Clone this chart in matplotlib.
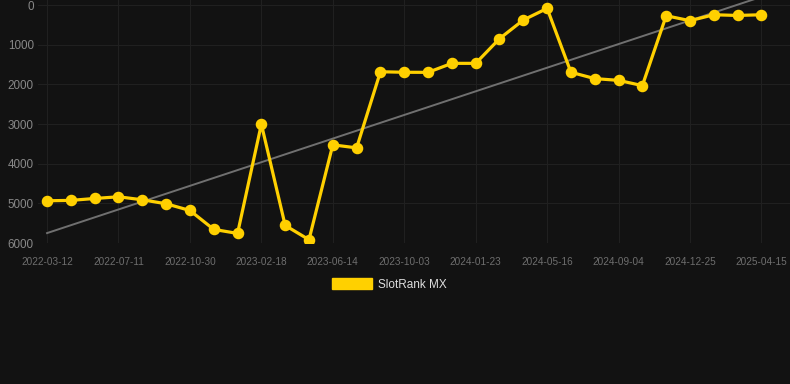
import numpy as np
import matplotlib
matplotlib.use("Agg")
import matplotlib.pyplot as plt
from matplotlib.patches import Patch

tick_labels = ["2022-03-12", "2022-07-11", "2022-10-30", "2023-02-18", "2023-06-14",
               "2023-10-03", "2024-01-23", "2024-05-16", "2024-09-04", "2024-12-25",
               "2025-04-15"]
ranks = [4935, 4925, 4877, 4834, 4910, 5010, 5180, 5657, 5758, 3003,
         5557, 5917, 3524, 3600, 1680, 1693, 1695, 1468, 1468, 846,
         375, 82, 1693, 1853, 1897, 2030, 267, 392, 242, 260, 242]
series_name = "SlotRank MX"

bg = "#121212"
yellow = "#FFD000"

fig = plt.figure(figsize=(7.9, 3.84), dpi=100, facecolor=bg)
ax = fig.add_axes([38/790, (384-243)/384, 1 - 38/790, 243/384])
ax.set_facecolor(bg)

x = np.arange(len(ranks))
coef = np.polyfit(x, ranks, 1)
xt = np.array([x[0], x[-1]])
ax.plot(xt, np.polyval(coef, xt), color="#707070", lw=1.4, zorder=2)
ax.plot(x, ranks, color=yellow, lw=2.3, marker="o", markersize=7.3, zorder=3)

ax.set_xlim(-0.38, 31.2)
ax.set_ylim(6000, -130)
ax.set_yticks([0, 1000, 2000, 3000, 4000, 5000, 6000])
ax.set_xticks(np.arange(0, len(ranks), 3))
ax.set_xticklabels(tick_labels)
for lab in ax.get_yticklabels():
    lab.set_family("Liberation Sans")
    lab.set_fontsize(8.4)
    lab.set_color("#888888")
for lab in ax.get_xticklabels():
    lab.set_family("Liberation Sans")
    lab.set_fontsize(7.2)
    lab.set_color("#6e6e6e")
ax.tick_params(length=0)
ax.tick_params(axis="x", pad=10)
ax.tick_params(axis="y", pad=3)
ax.grid(True, color="#202020", lw=0.8)
ax.set_axisbelow(True)
for s in ax.spines.values():
    s.set_visible(False)

fig.legend(handles=[Patch(color=yellow)], labels=[series_name],
           loc="center", bbox_to_anchor=(389.5/790, 1 - 284.5/384),
           frameon=False, handlelength=3.4, handleheight=1.0, handletextpad=0.5,
           prop={"family": "Liberation Sans", "size": 8.5}, labelcolor="#dddddd")

fig.savefig("out.png", dpi=100, facecolor=bg)
